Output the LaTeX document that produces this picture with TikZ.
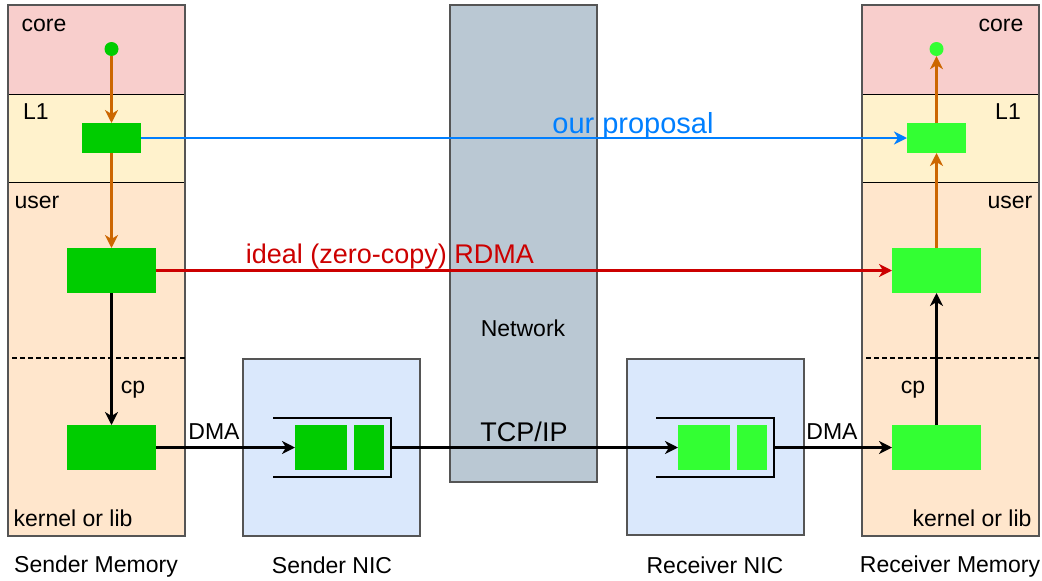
\documentclass[tikz,border=0pt]{standalone}
\usepackage{fontspec}
\setmainfont{Liberation Sans}
\usetikzlibrary{arrows.meta}
\definecolor{corec}{HTML}{F8CECC}
\definecolor{lonec}{HTML}{FFF2CC}
\definecolor{userc}{HTML}{FFE6CC}
\definecolor{nicc}{HTML}{DAE8FC}
\definecolor{netc}{HTML}{BAC8D3}
\definecolor{gdark}{HTML}{00CC00}
\definecolor{glight}{HTML}{33FF33}
\definecolor{orangec}{HTML}{CC6600}
\definecolor{bluec}{HTML}{007FFF}
\definecolor{redc}{HTML}{CC0000}
\definecolor{borderc}{HTML}{555555}
\tikzset{
  lbl/.style={inner sep=0pt, font=\fontsize{23}{27}\selectfont},
  biglbl/.style={inner sep=0pt, font=\fontsize{27}{32}\selectfont},
  pkt/.style={fill=#1, draw=none, inner sep=0pt, outer sep=0pt, anchor=north west},
  arr/.style={line width=2.6pt, -{Stealth[length=13pt,width=13pt,inset=4pt]}},
  sep/.style={draw=black, line width=1pt},
  colbox/.style={draw=borderc, line width=1.2pt},
  queue/.style={draw=none, inner sep=0pt, outer sep=0pt, anchor=north west},
}
\begin{document}
\begin{tikzpicture}[x=1pt,y=-1pt]
\useasboundingbox (0,0) rectangle (1042,581);
% ---- sender memory column
\fill[corec] (8,5) rectangle (185,94);
\fill[lonec] (8,94) rectangle (185,182);
\fill[userc] (8,182) rectangle (185,536);
\draw[sep] (8,94) -- (185,94);
\draw[sep] (8,182) -- (185,182);
\draw[colbox] (8,5) rectangle (185,536);
\draw[line width=1.2pt, dash pattern=on 5pt off 3pt] (12,358) -- (185,358);
% ---- receiver memory column
\fill[corec] (862,5) rectangle (1039,94);
\fill[lonec] (862,94) rectangle (1039,182);
\fill[userc] (862,182) rectangle (1039,536);
\draw[sep] (862,94) -- (1039,94);
\draw[sep] (862,182) -- (1039,182);
\draw[colbox] (862,5) rectangle (1039,536);
\draw[line width=1.2pt, dash pattern=on 5pt off 3pt] (866,358) -- (1039,358);
% ---- network
\draw[colbox, fill=netc] (450,5) rectangle (597,482);
% ---- NICs
\draw[colbox, fill=nicc] (243,359) rectangle (420,536);
\draw[colbox, fill=nicc] (627,359) rectangle (804,535);

% ---- labels
\node[lbl] (tcore) at (44,25) {core};
\node[lbl] (tl1) at (36,112) {L1};
\node[lbl] (tuser) at (37,202) {user};
\node[lbl] (tkern) at (73,518) {kernel or lib};
\node[lbl] (tcp) at (133,390) {cp};
\node[lbl] (tdma) at (214,432) {DMA};
\node[lbl] (rcore) at (1001,25) {core};
\node[lbl] (rl1) at (1008,112) {L1};
\node[lbl] (ruser) at (1010,202) {user};
\node[lbl] (rkern) at (972,518) {kernel or lib};
\node[lbl] (rcp) at (913,390) {cp};
\node[lbl] (rdma) at (832,432) {DMA};
\node[lbl] (tnet) at (523,328) {Network};
\node[biglbl] (ttcp) at (524,432) {TCP/IP};
\node[lbl] (b1) at (96,567) {Sender Memory};
\node[lbl] (b2) at (332,565) {Sender NIC};
\node[lbl] (b3) at (715,565) {Receiver NIC};
\node[lbl] (b4) at (950,567) {Receiver Memory};
\node[inner sep=0pt, font=\fontsize{29}{34}\selectfont, text=bluec] (tprop) at (633,126) {our proposal};
\node[biglbl, text=redc] (trdma) at (390,257) {ideal (zero-copy) RDMA};

% ---- sender packets
\node[circle, fill=gdark, minimum size=14pt, inner sep=0pt] (sdot) at (111.5,49) {};
\node[pkt=gdark, minimum width=59pt, minimum height=30pt] (sl1) at (82,123) {};
\node[pkt=gdark, minimum width=89pt, minimum height=45pt] (suser) at (67,248) {};
\node[pkt=gdark, minimum width=89pt, minimum height=45pt] (skern) at (67,425) {};
\node[queue, minimum width=118pt, minimum height=59pt] (sq) at (273,418) {};
\draw[line width=1.6pt] (sq.north west) -- (sq.north east) -- (sq.south east) -- (sq.south west);
\node[pkt=gdark, minimum width=52pt, minimum height=45pt] (sn1) at (295,425) {};
\node[pkt=gdark, minimum width=30pt, minimum height=45pt] (sn2) at (354,425) {};

% ---- receiver packets
\node[circle, fill=glight, minimum size=14pt, inner sep=0pt] (rdot) at (936.5,49) {};
\node[pkt=glight, minimum width=59pt, minimum height=30pt] (rl1b) at (907,123) {};
\node[pkt=glight, minimum width=89pt, minimum height=45pt] (ruserb) at (892,248) {};
\node[pkt=glight, minimum width=89pt, minimum height=45pt] (rkernb) at (892,425) {};
\node[queue, minimum width=118pt, minimum height=59pt] (rq) at (656,418) {};
\draw[line width=1.6pt] (rq.north west) -- (rq.north east) -- (rq.south east) -- (rq.south west);
\node[pkt=glight, minimum width=52pt, minimum height=45pt] (rn1) at (678,425) {};
\node[pkt=glight, minimum width=30pt, minimum height=45pt] (rn2) at (737,425) {};

% ---- connectors
\draw[arr, orangec] (sdot.south) -- (sl1.north);
\draw[arr, orangec] (sl1.south) -- (suser.north);
\draw[arr, black] (suser.south) -- (skern.north);
\draw[arr, black] (skern.east) -- (sn1.west);
\draw[arr, black] (sq.east) -- (rn1.west);
\draw[arr, black] (rq.east) -- (rkernb.west);
\draw[arr, black] (rkernb.north) -- (ruserb.south);
\draw[arr, orangec] (ruserb.north) -- (rl1b.south);
\draw[arr, orangec] (rl1b.north) -- (rdot.south);
\draw[arr, bluec] (sl1.east) -- (rl1b.west);
\draw[arr, redc] (suser.east) -- (ruserb.west);
\end{tikzpicture}
\end{document}
